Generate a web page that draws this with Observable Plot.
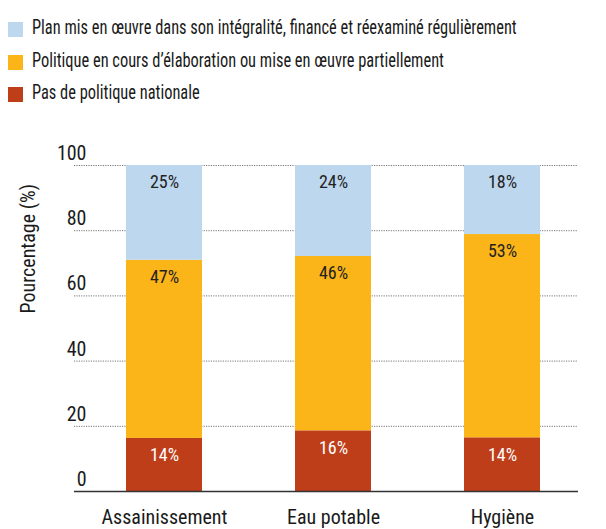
<!DOCTYPE html>
<html><head><meta charset="utf-8">
<script src="https://cdn.jsdelivr.net/npm/d3@7"></script>
<script src="https://cdn.jsdelivr.net/npm/@observablehq/plot@0.6"></script>
<style>
body{margin:0;background:#fff;}
#wrap{position:relative;width:606px;height:529px;overflow:hidden;}
#legend{position:absolute;left:0;top:0;width:606px;height:130px;}
.item{position:absolute;left:8px;height:20px;}
.sw{position:absolute;left:0;top:2px;width:15px;height:15px;}
.lab{position:absolute;left:24px;top:-5px;font-family:Roboto,sans-serif;font-stretch:condensed;font-weight:400;font-size:20px;color:#1a1a1a;white-space:nowrap;transform:scaleX(0.82);transform-origin:0 50%;}
#chart{position:absolute;left:0;top:130px;}
</style></head><body>
<div id="wrap"><div id="legend"></div><div id="chart"></div></div>
<script>
const categories = ["Assainissement", "Eau potable", "Hygiène"];
const series = ["Pas de politique nationale", "Politique en cours d’élaboration ou mise en œuvre partiellement", "Plan mis en œuvre dans son intégralité, financé et réexaminé régulièrement"];
const noPolicy = [14, 16, 14];
const partial = [47, 46, 53];
const fullPlan = [25, 24, 18];
const colors = ["#BF3E1A", "#FBB518", "#BDD7EE"];
const yTicks = [0, 20, 40, 60, 80, 100];

const valuesBySeries = [noPolicy, partial, fullPlan];
const data = [];
categories.forEach((c, i) => series.forEach((s, j) => data.push({cat: c, series: s, value: valuesBySeries[j][i], color: colors[j]})));

// Legend (top to bottom: plan, partial, none)
const legend = document.getElementById("legend");
[2, 1, 0].forEach((j, k) => {
  const it = document.createElement("div");
  it.className = "item";
  it.style.top = (20 + k * 32.5) + "px";
  it.innerHTML = `<div class="sw" style="background:${colors[j]}"></div><div class="lab">${series[j]}</div>`;
  legend.appendChild(it);
});

const chart = Plot.plot({
  width: 606,
  height: 399,
  marginTop: 35,
  marginBottom: 38,
  marginLeft: 74,
  marginRight: 28,
  style: {fontFamily: "Roboto, sans-serif", fontStretch: "condensed", fontSize: "19px", color: "#1a1a1a", background: "#fff"},
  x: {domain: categories, range: [79.5, 586.5], paddingInner: 0.55, paddingOuter: 0.275, label: null},
  y: {domain: [0, 1], label: null},
  color: {type: "identity"},
  marks: [
    Plot.gridY(yTicks.filter(t => t > 0).map(t => t / 100), {stroke: "#777", strokeOpacity: 1, strokeDasharray: "1.2,1.2"}),
    Plot.barY(data, {x: "cat", y: "value", z: "series", fill: "color", offset: "normalize"}),
    Plot.text(data, Plot.stackY2({x: "cat", y: "value", z: "series", offset: "normalize", text: d => d.value + "%", fill: d => d.series === series[0] ? "#ffffff" : "#222222", dy: 17, fontSize: 18})),
    Plot.ruleY([0], {stroke: "#333", strokeWidth: 1.5}),
    Plot.axisY(yTicks.map(t => t / 100), {tickFormat: d => Math.round(d * 100), tickSize: 0, tickPadding: 0, dx: 12, dy: -12, fontSize: 20, label: null}),
    Plot.axisX({tickSize: 0, tickPadding: 18, fontSize: 20, label: null}),
    Plot.text(["Pourcentage (%)"], {frameAnchor: "left", rotate: -90, dx: -46, dy: -15, fontSize: 20, fill: "#1a1a1a"})
  ]
});
document.getElementById("chart").appendChild(chart);
</script>
</body></html>
